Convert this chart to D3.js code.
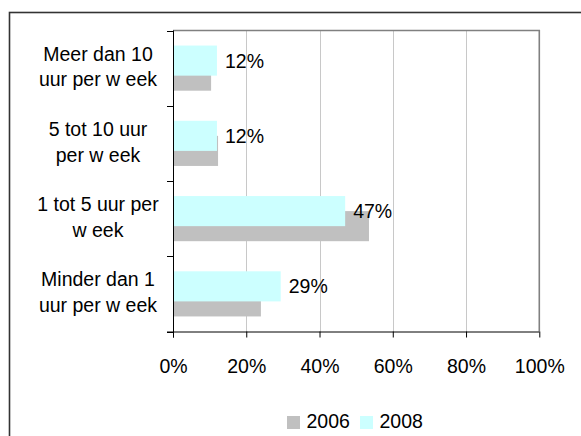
<!DOCTYPE html>
<html>
<head>
<meta charset="utf-8">
<script src="https://cdn.jsdelivr.net/npm/d3@7"></script>
<style>
  html, body { margin: 0; padding: 0; background: #fff; }
  svg { display: block; }
  text { font-family: "Liberation Sans", Arial, sans-serif; fill: #000; }
</style>
</head>
<body>
<svg id="chart" width="581" height="436"></svg>
<script>
// ---- data ----
const categories = [
  ["Meer dan 10", "uur per w eek"],
  ["5 tot 10 uur", "per w eek"],
  ["1 tot 5 uur per", "w eek"],
  ["Minder dan 1", "uur per w eek"]
];
const seriesNames = ["2006", "2008"];
const values2006 = [10.4, 12.3, 53.5, 24.0];
const values2008 = [12, 12, 47, 29.4];
const xTicks = [0, 20, 40, 60, 80, 100];

// ---- layout ----
const W = 581, H = 436;
const plot = { left: 173, right: 539.3, top: 30.5, bottom: 331.5 };
const colors = { "2006": "#c0c0c0", "2008": "#ccffff" };
const fontSize = 19.5;

const svg = d3.select("#chart");

// outer frame (extends beyond the canvas on right/bottom)
svg.append("rect")
  .attr("x", 9.5).attr("y", 12.5)
  .attr("width", W + 20).attr("height", H + 20)
  .attr("fill", "#fff").attr("stroke", "#333").attr("stroke-width", 1.6);

const keys = categories.map(c => c.join(" "));
const x = d3.scaleLinear().domain([0, 100]).range([plot.left, plot.right]);
const y = d3.scaleBand().domain(keys).range([plot.top, plot.bottom]).padding(0);
const bw = y.bandwidth();
const barH = bw * 0.4;

// gridlines
svg.append("g").selectAll("line")
  .data(xTicks.filter(t => t > 0 && t < 100))
  .join("line")
  .attr("x1", d => Math.round(x(d)) + 0.5).attr("x2", d => Math.round(x(d)) + 0.5)
  .attr("y1", plot.top).attr("y2", plot.bottom)
  .attr("stroke", "#c8c8c8").attr("stroke-width", 1);

// plot area frame (top & right)
svg.append("path")
  .attr("d", `M${plot.left},${plot.top} H${plot.right} V${plot.bottom}`)
  .attr("fill", "none").attr("stroke", "#808080").attr("stroke-width", 1.6);

// bars
const rows = keys.map((k, i) => ({ key: k, v2006: values2006[i], v2008: values2008[i] }));
const g = svg.append("g");
// 2006 (lower, drawn first)
g.selectAll("rect.s2006").data(rows).join("rect")
  .attr("class", "s2006")
  .attr("x", x(0))
  .attr("y", d => y(d.key) + bw / 2 - barH * 0.75 + barH / 2)
  .attr("width", d => x(d.v2006) - x(0))
  .attr("height", barH)
  .attr("fill", colors["2006"]);
// 2008 (upper, overlaps)
g.selectAll("rect.s2008").data(rows).join("rect")
  .attr("class", "s2008")
  .attr("x", x(0))
  .attr("y", d => y(d.key) + bw / 2 - barH * 0.75)
  .attr("width", d => x(d.v2008) - x(0))
  .attr("height", barH)
  .attr("fill", colors["2008"]);

// data labels for 2008
g.selectAll("text.lbl").data(rows).join("text")
  .attr("class", "lbl")
  .attr("x", d => x(d.v2008) + 8)
  .attr("y", d => y(d.key) + bw / 2 - barH * 0.25)
  .attr("dy", "0.36em")
  .attr("font-size", fontSize)
  .text(d => Math.round(d.v2008) + "%");

// x axis
const xAxis = d3.axisBottom(x).tickValues(xTicks).tickFormat(d => d + "%")
  .tickSize(6).tickPadding(22);
const gx = svg.append("g").attr("transform", `translate(0,${plot.bottom})`).call(xAxis);
gx.select(".domain").attr("stroke", "#000").attr("d", `M${plot.left - 6},0.5H${plot.right}`);
gx.selectAll(".tick line").attr("stroke", "#000");
gx.selectAll(".tick text").attr("font-size", fontSize)
  .attr("font-family", "Liberation Sans, Arial, sans-serif").attr("fill", "#000");

// y axis line + ticks at band boundaries
const boundaries = keys.map(k => y(k)).concat([plot.bottom]);
svg.append("line")
  .attr("x1", plot.left + 0.5).attr("x2", plot.left + 0.5)
  .attr("y1", plot.top).attr("y2", plot.bottom + 6)
  .attr("stroke", "#000");
svg.append("g").selectAll("line").data(boundaries).join("line")
  .attr("x1", plot.left - 6).attr("x2", plot.left)
  .attr("y1", d => Math.round(d) + 0.5).attr("y2", d => Math.round(d) + 0.5)
  .attr("stroke", "#000");

// category labels
const labelX = 98;
const cl = svg.append("g").selectAll("text").data(categories).join("text")
  .attr("text-anchor", "middle")
  .attr("font-size", fontSize)
  .attr("y", (d, i) => y(keys[i]) + bw / 2);
cl.selectAll("tspan").data(d => d).join("tspan")
  .attr("x", labelX)
  .attr("dy", (d, i) => i === 0 ? -7.5 : 25.7)
  .text(d => d);

// legend
const legend = svg.append("g").attr("transform", "translate(287,416)");
const legItems = [
  { name: seriesNames[0], x: 0 },
  { name: seriesNames[1], x: 73 }
];
const li = legend.selectAll("g").data(legItems).join("g")
  .attr("transform", d => `translate(${d.x},0)`);
li.append("rect").attr("width", 13).attr("height", 13)
  .attr("fill", d => colors[d.name]);
li.append("text").attr("x", 19.5).attr("y", 11.5)
  .attr("font-size", fontSize).text(d => d.name);
</script>
</body>
</html>
